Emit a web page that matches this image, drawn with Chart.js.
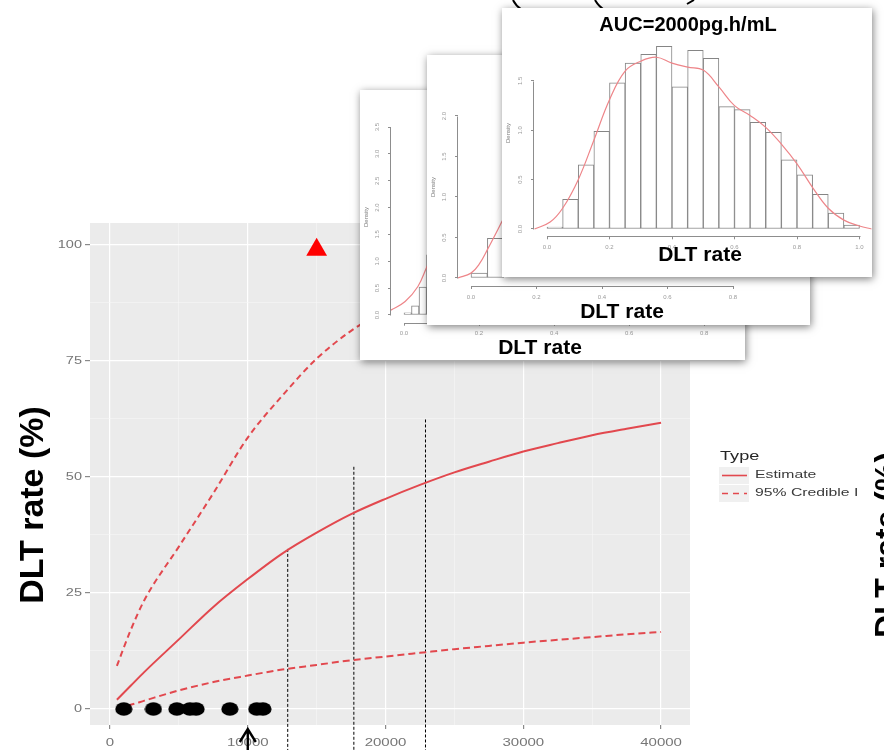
<!DOCTYPE html>
<html>
<head>
<meta charset="utf-8">
<title>DLT rate vs AUC</title>
<script src="https://cdn.jsdelivr.net/npm/chart.js@4"></script>
<style>
  body { margin: 0; background: #fff; }
  #wrap { position: relative; width: 884px; height: 750px; overflow: hidden; }
  #main { position: absolute; left: 0; top: 0; z-index: 0; }
  .inset { position: absolute; background: #fff; box-shadow: 1px 2px 8px rgba(0, 0, 0, 0.5); }
  .inset canvas { display: block; }
</style>
</head>
<body>
<div id="wrap">
  <canvas id="main" width="884" height="750"></canvas>
  <div class="inset" style="left:360px;top:90px;width:385px;height:270px;z-index:1"><canvas id="histA" width="385" height="270"></canvas></div>
  <div class="inset" style="left:427px;top:55px;width:383px;height:270px;z-index:2"><canvas id="histB" width="383" height="270"></canvas></div>
  <div class="inset" style="left:502px;top:8px;width:370px;height:269px;z-index:3"><canvas id="histC" width="370" height="269"></canvas></div>
</div>
<script>
// dose-toxicity curve: DLT rate (%) against AUC
const aucGrid = [500, 1500, 2500, 5000, 7500, 10000, 12500, 15000, 17500, 20000, 22500, 25000, 27500, 30000, 32500, 35000, 37500, 40000];
const estimate = [2, 5, 8, 15, 22, 28, 33.5, 38, 42, 45.3, 48.3, 51, 53.3, 55.5, 57.3, 59, 60.4, 61.7];
const upper95 = [9.3, 17, 23.5, 35, 46.5, 58.5, 67.5, 75.5, 81.5, 86, 89.3, 91.8, 93.5, 94.8, 95.8, 96.6, 97.2, 97.7];
const lower95 = [0.2, 0.9, 1.8, 4, 5.8, 7.2, 8.5, 9.5, 10.5, 11.3, 12.1, 12.9, 13.6, 14.3, 14.9, 15.5, 16.1, 16.6];
const observedAuc = [1000, 3150, 4850, 5800, 6250, 8700, 10650, 11100];
const targetAuc = [15000];
const targetRate = [99];
const guideAuc = [12900, 17700, 22900];
const guideTop = [34.5, 52.2, 62.4];
const arrowAuc = 10000;
const xMajor = [0, 10000, 20000, 30000, 40000];
const xMinor = [5000, 15000, 25000, 35000];
const yMajor = [0, 25, 50, 75, 100];
const yMinor = [12.5, 37.5, 62.5, 87.5];
const legendTitle = 'Type';
const legendLabels = ['Estimate', '95% Credible Interval'];

// posterior DLT-rate histograms (density scale)
const breaksA = [0, 0.02, 0.04, 0.06];
const densityA = [0.04, 0.17, 0.52, 1.12];
const kdeXA = [-0.035, 0.003, 0.037, 0.061, 0.09];
const kdeYA = [0.09, 0.25, 0.53, 0.9, 1.35];
const breaksB = [0, 0.05];
const densityB = [0.06, 0.49];
const kdeXB = [-0.04, 0, 0.025, 0.05, 0.1];
const kdeYB = [0, 0.06, 0.17, 0.35, 0.74];
const breaksC = [0, 0.05, 0.1, 0.15, 0.2, 0.25, 0.3, 0.35, 0.4, 0.45, 0.5, 0.55, 0.6, 0.65, 0.7, 0.75, 0.8, 0.85, 0.9, 0.95];
const densityC = [0.02, 0.30, 0.65, 0.99, 1.48, 1.68, 1.77, 1.85, 1.44, 1.81, 1.73, 1.24, 1.21, 1.08, 0.98, 0.70, 0.55, 0.35, 0.16, 0.04];
const kdeXC = [-0.04, 0.01, 0.05, 0.1, 0.15, 0.2, 0.25, 0.3, 0.35, 0.4, 0.45, 0.5, 0.55, 0.6, 0.65, 0.7, 0.75, 0.8, 0.85, 0.9, 0.95, 1.0, 1.04];
const kdeYC = [0.0, 0.07, 0.21, 0.50, 0.90, 1.31, 1.60, 1.70, 1.74, 1.68, 1.64, 1.61, 1.44, 1.25, 1.15, 1.03, 0.86, 0.66, 0.42, 0.21, 0.09, 0.03, 0.0];
const ticksA = { x: [0, 0.2, 0.4, 0.6, 0.8], y: [0, 0.5, 1, 1.5, 2, 2.5, 3, 3.5] };
const ticksB = { x: [0, 0.2, 0.4, 0.6, 0.8], y: [0, 0.5, 1, 1.5, 2] };
const ticksC = { x: [0, 0.2, 0.4, 0.6, 0.8, 1.0], y: [0, 0.5, 1, 1.5] };

const RED = 'rgb(226, 72, 78)';
const SANS = '"Liberation Sans", Arial, sans-serif';

// text squeezed the way the exported ggplot panel was stretched
function wideText(ctx, text, x, y, size, color, align, sx, weight) {
  ctx.save();
  ctx.font = (weight || '') + ' ' + size + 'px ' + SANS;
  ctx.fillStyle = color;
  ctx.textAlign = align;
  ctx.textBaseline = 'middle';
  ctx.translate(x, y);
  ctx.scale(sx, 1);
  ctx.fillText(text, 0, 0);
  ctx.restore();
}

function vText(ctx, text, x, y, font, color) {
  ctx.save();
  ctx.translate(x, y);
  ctx.rotate(-Math.PI / 2);
  ctx.font = font;
  ctx.fillStyle = color;
  ctx.textAlign = 'center';
  ctx.textBaseline = 'alphabetic';
  ctx.fillText(text, 0, 0);
  ctx.restore();
}

// black ellipse marker for observed patients
const dot = document.createElement('canvas');
dot.width = 18; dot.height = 14;
(function () {
  const c = dot.getContext('2d');
  c.fillStyle = '#000';
  c.beginPath();
  c.ellipse(9, 7, 8.6, 6.8, 0, 0, Math.PI * 2);
  c.fill();
})();

const isMajor = (list, v) => list.includes(v);

const ggPanel = {
  id: 'ggPanel',
  beforeDraw(chart) {
    const { ctx, chartArea: a } = chart;
    ctx.save();
    ctx.fillStyle = '#ebebeb';
    ctx.fillRect(a.left, a.top, a.right - a.left, a.bottom - a.top);
    ctx.restore();
  },
  afterDraw(chart) {
    const { ctx, chartArea: a, scales: { x, y } } = chart;
    // tick labels
    xMajor.forEach(v => wideText(ctx, String(v), x.getPixelForValue(v), a.bottom + 18, 10, '#767676', 'center', 1.5));
    yMajor.forEach(v => wideText(ctx, String(v), a.left - 8, y.getPixelForValue(v), 10, '#767676', 'right', 1.45));

    // axis title
    vText(ctx, 'DLT rate (%)', 43, 505, 'bold 34px ' + SANS, '#000');

    // legend
    const lx = 719, ly = 467;
    ctx.save();
    wideText(ctx, legendTitle, lx + 1, ly - 10, 12.5, '#262626', 'left', 1.45);
    ctx.fillStyle = '#f0f0f0';
    ctx.fillRect(lx, ly, 30, 17);
    ctx.fillRect(lx, ly + 18, 30, 17);
    ctx.strokeStyle = RED;
    ctx.lineWidth = 1.6;
    ctx.beginPath(); ctx.moveTo(lx + 3, ly + 8.5); ctx.lineTo(lx + 28, ly + 8.5); ctx.stroke();
    ctx.setLineDash([6, 5]);
    ctx.beginPath(); ctx.moveTo(lx + 3, ly + 26.5); ctx.lineTo(lx + 28, ly + 26.5); ctx.stroke();
    ctx.setLineDash([]);
    ctx.beginPath(); ctx.rect(0, 0, 857, 750); ctx.clip();
    legendLabels.forEach((t, i) => wideText(ctx, t, lx + 36, ly + 8.5 + i * 18, 10.5, '#3a3a3a', 'left', 1.5));
    ctx.restore();

    // next panel's axis title, cut by the page edge
    vText(ctx, 'DLT rate (%)', 897, 545, 'bold 32px ' + SANS, '#000');

    // arrow under the 10000 tick
    const ax = x.getPixelForValue(arrowAuc);
    ctx.save();
    ctx.strokeStyle = '#000';
    ctx.lineWidth = 2.4;
    ctx.beginPath();
    ctx.moveTo(ax, 750); ctx.lineTo(ax, a.bottom + 4);
    ctx.moveTo(ax - 8, a.bottom + 17); ctx.lineTo(ax, a.bottom + 4); ctx.lineTo(ax + 8, a.bottom + 17);
    ctx.stroke();

    // tails of the call-out arrows coming from above
    ctx.lineWidth = 2;
    ctx.beginPath();
    ctx.moveTo(513, 0); ctx.quadraticCurveTo(516, 6, 521, 9);
    ctx.moveTo(595, 0); ctx.quadraticCurveTo(599, 7, 605, 10);
    ctx.moveTo(687, 4); ctx.lineTo(694, 0);
    ctx.stroke();
    ctx.restore();
  }
};

const curve = (vals, dash) => ({
  data: aucGrid.map((v, i) => ({ x: v, y: vals[i] })),
  showLine: true,
  borderColor: RED,
  borderWidth: 2,
  borderDash: dash,
  pointRadius: 0,
  cubicInterpolationMode: 'monotone',
  order: 2
});

const guides = guideAuc.map((g, i) => ({
  data: [{ x: g, y: guideTop[i] }, { x: g, y: -12 }],
  showLine: true,
  borderColor: '#000',
  borderWidth: 1,
  borderDash: [3, 2],
  pointRadius: 0,
  clip: false,
  order: 3
}));

new Chart(document.getElementById('main'), {
  type: 'scatter',
  data: {
    datasets: [
      { data: observedAuc.map(v => ({ x: v, y: 0 })), pointStyle: dot, pointRadius: 8, order: 0, clip: false },
      { data: targetAuc.map((v, i) => ({ x: v, y: targetRate[i] })), pointStyle: 'triangle', pointRadius: 12,
        backgroundColor: '#ff0000', borderColor: '#ff0000', borderWidth: 0, order: 0 },
      curve(estimate, []),
      curve(upper95, [6, 4]),
      curve(lower95, [7, 4]),
      ...guides
    ]
  },
  options: {
    responsive: false,
    animation: false,
    events: [],
    layout: { padding: { left: 0, top: 223, right: 194, bottom: 0 } },
    plugins: { legend: { display: false }, tooltip: { enabled: false } },
    scales: {
      x: {
        type: 'linear', min: -1452, max: 42100,
        afterBuildTicks: s => { s.ticks = [...xMajor, ...xMinor].sort((p, q) => p - q).map(value => ({ value })); },
        afterFit: s => { s.height = 25; },
        border: { display: false },
        ticks: { display: false },
        grid: {
          color: c => isMajor(xMajor, c.tick.value) ? '#ffffff' : '#f6f6f6',
          lineWidth: c => isMajor(xMajor, c.tick.value) ? 1.2 : 0.6,
          tickColor: c => isMajor(xMajor, c.tick.value) ? '#8a8a8a' : 'rgba(0,0,0,0)',
          tickLength: 4
        }
      },
      y: {
        type: 'linear', min: -3.45, max: 104.74,
        afterBuildTicks: s => { s.ticks = [...yMajor, ...yMinor].sort((p, q) => p - q).map(value => ({ value })); },
        afterFit: s => { s.width = 90; },
        border: { display: false },
        ticks: { display: false },
        grid: {
          color: c => isMajor(yMajor, c.tick.value) ? '#ffffff' : '#f6f6f6',
          lineWidth: c => isMajor(yMajor, c.tick.value) ? 1.2 : 0.6,
          tickColor: c => isMajor(yMajor, c.tick.value) ? '#8a8a8a' : 'rgba(0,0,0,0)',
          tickLength: 5
        }
      }
    }
  },
  plugins: [ggPanel]
});

// base-graphics style axis for the histogram panels
function rAxis(min, max, ticks, vertical, size, pad) {
  return {
    type: 'linear', min, max, offset: false,
    afterBuildTicks: s => { s.ticks = ticks.map(value => ({ value })); },
    afterFit: s => { if (vertical) s.width = size; else s.height = size; },
    border: { display: false },
    grid: { drawOnChartArea: false, offset: false, tickLength: 3, color: '#8d8d8d' },
    ticks: {
      autoSkip: false, padding: pad, color: '#9a9a9a',
      font: { size: 6, family: SANS },
      callback: v => v.toFixed(1),
      minRotation: vertical ? 90 : 0, maxRotation: vertical ? 90 : 0,
      crossAlign: vertical ? 'center' : 'near'
    }
  };
}

const rFrame = notes => ({
  id: 'rFrame',
  afterDraw(chart) {
    const { ctx, chartArea: a, scales: { x, y } } = chart;
    const xt = x.ticks, yt = y.ticks;
    ctx.save();
    ctx.strokeStyle = '#8d8d8d';
    ctx.lineWidth = 1;
    ctx.beginPath();
    ctx.moveTo(Math.round(x.getPixelForValue(xt[0].value)) + 0.5, Math.round(a.bottom) + 0.5);
    ctx.lineTo(Math.round(x.getPixelForValue(xt[xt.length - 1].value)) + 0.5, Math.round(a.bottom) + 0.5);
    ctx.moveTo(Math.round(a.left) - 0.5, Math.round(y.getPixelForValue(yt[0].value)) + 0.5);
    ctx.lineTo(Math.round(a.left) - 0.5, Math.round(y.getPixelForValue(yt[yt.length - 1].value)) + 0.5);
    ctx.stroke();
    notes.forEach(n => {
      ctx.save();
      ctx.translate(n.x, n.y);
      if (n.rotate) ctx.rotate(-Math.PI / 2);
      ctx.font = n.font;
      ctx.fillStyle = n.color;
      ctx.textAlign = 'center';
      ctx.textBaseline = 'middle';
      ctx.fillText(n.text, 0, 0);
      ctx.restore();
    });
    ctx.restore();
  }
});

function histogram(id, h) {
  return new Chart(document.getElementById(id), {
    type: 'bar',
    data: {
      datasets: [
        { type: 'line', data: h.kdeX.map((v, i) => ({ x: v, y: h.kdeY[i] })), borderColor: '#ee8589', borderWidth: 1.2,
          pointRadius: 0, tension: 0.4, order: 0 },
        { type: 'bar', data: h.breaks.map((b, i) => ({ x: b + h.bin / 2, y: h.density[i] })), backgroundColor: '#ffffff',
          borderColor: '#858585', borderWidth: 1, borderSkipped: false, barPercentage: 1, categoryPercentage: 1, order: 1 }
      ]
    },
    options: {
      responsive: false,
      animation: false,
      events: [],
      layout: { padding: h.pad },
      plugins: { legend: { display: false }, tooltip: { enabled: false } },
      scales: {
        x: rAxis(h.xRange[0], h.xRange[1], h.ticks.x, false, h.xSize, 4.4),
        y: rAxis(h.yRange[0], h.yRange[1], h.ticks.y, true, h.ySize, 6)
      }
    },
    plugins: [rFrame(h.notes)]
  });
}

const boldLabel = 'bold 21px ' + SANS;
const densityFont = '6px ' + SANS;

histogram('histA', {
  breaks: breaksA, density: densityA, bin: 0.02, kdeX: kdeXA, kdeY: kdeYA, ticks: ticksA,
  xRange: [-0.0347, 0.901], yRange: [-0.144, 3.744],
  pad: { left: 0, top: 24, right: 3, bottom: 0 }, ySize: 31, xSize: 37.3,
  notes: [
    { text: 'Density', x: 6, y: 127, font: densityFont, color: '#7a7a7a', rotate: true },
    { text: 'DLT rate', x: 180, y: 258, font: boldLabel, color: '#000' }
  ]
});

histogram('histB', {
  breaks: breaksB, density: densityB, bin: 0.05, kdeX: kdeXB, kdeY: kdeYB, ticks: ticksB,
  xRange: [-0.0397, 0.98], yRange: [-0.099, 2.605],
  pad: { left: 0, top: 12, right: 18, bottom: 0 }, ySize: 31, xSize: 39,
  notes: [
    { text: 'Density', x: 6, y: 132, font: densityFont, color: '#7a7a7a', rotate: true },
    { text: 'DLT rate', x: 195, y: 257, font: boldLabel, color: '#000' }
  ]
});

histogram('histC', {
  breaks: breaksC, density: densityC, bin: 0.05, kdeX: kdeXC, kdeY: kdeYC, ticks: ticksC,
  xRange: [-0.0416, 1.0384], yRange: [-0.074, 1.935],
  pad: { left: 0, top: 30, right: 0.5, bottom: 0 }, ySize: 32, xSize: 40.7,
  notes: [
    { text: 'AUC=2000pg.h/mL', x: 186, y: 17, font: 'bold 20px ' + SANS, color: '#000' },
    { text: 'Density', x: 6, y: 125, font: densityFont, color: '#7a7a7a', rotate: true },
    { text: 'DLT rate', x: 198, y: 247, font: boldLabel, color: '#000' }
  ]
});
</script>
</body>
</html>
